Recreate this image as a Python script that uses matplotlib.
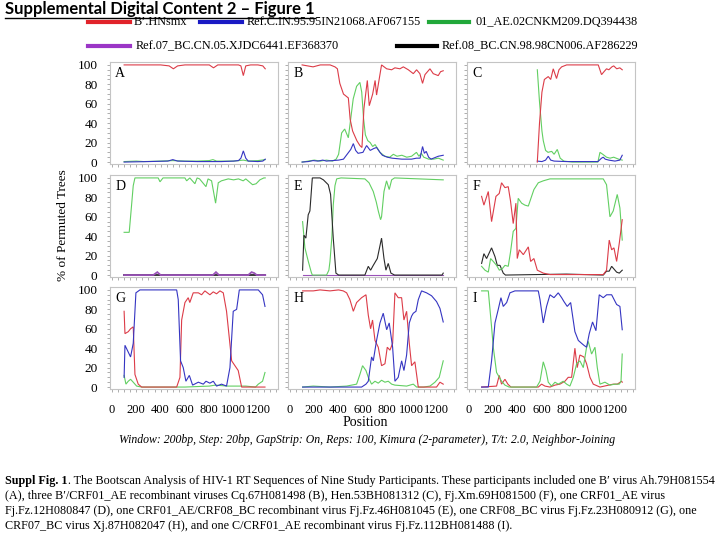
import matplotlib
matplotlib.use("Agg")
import matplotlib.pyplot as plt
from matplotlib.lines import Line2D

# ---------------- data (bootscan % of permuted trees vs. position) ----------------
A_red_pos = [100, 400, 470, 505, 540, 600, 800, 835, 870, 1040, 1060, 1080, 1100, 1140, 1200, 1240, 1260]
A_red_pct = [100, 100, 99, 96, 99, 100, 100, 97, 100, 100, 99, 89, 99, 100, 100, 99, 96]
A_blue_pos = [100, 300, 460, 500, 540, 700, 900, 1000, 1040, 1060, 1080, 1100, 1120, 1200, 1240, 1260]
A_blue_pct = [0, 0.5, 1, 2.5, 1, 0.5, 0.5, 1, 1.5, 4, 11.5, 4, 1, 0.5, 1, 3]
A_green_pos = [100, 200, 260, 400, 500, 600, 700, 800, 830, 860, 1000, 1040, 1080, 1120, 1200, 1260]
A_green_pct = [0.5, 1, 0.5, 1, 1.5, 1, 1, 1.5, 2.5, 1, 1, 1.5, 2, 1, 1.5, 2.5]

B_red_pos = [100, 190, 250, 330, 370, 390, 410, 440, 480, 495, 515, 550, 575, 592, 608, 636, 652, 680, 700, 712,
             753, 795, 836, 863, 904, 932, 973, 1014, 1041, 1068, 1090, 1110, 1151, 1178, 1219, 1238, 1260]
B_red_pct = [100, 98, 100, 100, 98, 96, 81, 70, 66, 44, 32, 22, 17, 15, 55, 84, 58, 70, 84, 69,
             100, 96, 95, 97, 96, 98, 95, 91, 95, 91, 81, 90, 96, 91, 89, 93, 94]
B_green_pos = [100, 150, 200, 250, 300, 350, 380, 400, 425, 450, 480, 500, 520, 548, 575, 590, 605, 620, 640, 660,
               680, 700, 720, 740, 780, 820, 850, 880, 920, 960, 1000, 1040, 1060, 1080, 1100, 1140, 1180, 1220, 1260]
B_green_pct = [0, 1, 2, 1, 2, 1, 3, 8, 30, 34, 25, 45, 65, 78, 82, 72, 45, 28, 22, 20,
               16, 18, 14, 10, 6, 5, 8, 6, 7, 5, 6, 10, 6, 9, 5, 3, 3, 4, 2]
B_blue_pos = [100, 150, 190, 230, 270, 300, 350, 400, 440, 470, 500, 521, 540, 560, 600, 630, 660, 690, 712, 740,
              760, 800, 840, 880, 920, 960, 1000, 1040, 1070, 1090, 1105, 1120, 1140, 1160, 1180, 1220, 1260]
B_blue_pct = [0, 0.5, 1.5, 1, 2, 1, 1.5, 2, 3, 8, 13, 19, 12, 9, 10, 17, 12, 14, 15, 10,
              7, 5, 4, 3.5, 3, 3, 3, 4, 4, 16, 9, 11, 5, 3, 4, 6, 7]

C_red_pos = [562, 580, 600, 620, 652, 672, 693, 720, 740, 762, 803, 1063, 1090, 1110, 1131, 1150, 1175, 1190, 1215, 1240, 1260]
C_red_pct = [0, 40, 72, 85, 88, 85, 96, 86, 95, 98, 100, 100, 90, 93, 96, 95, 98, 99, 96, 97, 95]
C_green_pos = [562, 580, 600, 611, 630, 650, 680, 700, 726, 750, 780, 850, 1060, 1077, 1100, 1131, 1160, 1190, 1230, 1260]
C_green_pct = [95, 62, 32, 22, 12, 10, 11, 8, 13, 4, 1, 0, 0, 10, 8, 5, 4, 5, 3, 2]
C_blue_pos = [562, 600, 630, 652, 672, 700, 800, 1060, 1090, 1104, 1120, 1150, 1200, 1240, 1260]
C_blue_pct = [1, 0.5, 2, 6, 2, 1, 0.5, 0.5, 4, 5, 3, 2, 1, 2, 7]

D_green_pos = [100, 142, 160, 175, 189, 380, 395, 420, 600, 614, 640, 682, 700, 720, 773, 790, 819, 852, 874, 900,
               956, 1000, 1040, 1079, 1100, 1156, 1185, 1216, 1249, 1260]
D_green_pct = [44, 44, 70, 92, 100, 100, 96, 100, 100, 97, 100, 94, 100, 99, 91, 99, 97, 74, 95, 97,
               99, 98, 99, 97, 99, 93, 94, 98, 100, 100]
D_black_pos = [100, 1260]
D_black_pct = [0, 0]
D_purple_pos = [100, 340, 373, 400, 830, 855, 880, 1120, 1148, 1170, 1190, 1260]
D_purple_pct = [0, 0, 3, 0, 0, 3, 0, 0, 3, 2, 0, 0]

E_black_pos = [104, 115, 131, 150, 164, 184, 220, 247, 275, 315, 334, 356, 378, 400, 616, 644, 663, 685, 718, 753,
               773, 789, 808, 830, 860, 1250, 1260]
E_black_pct = [5, 41, 38, 62, 66, 100, 100, 100, 98, 93, 83, 38, 2, 0, 0, 9, 5, 10, 17, 38,
               17, 5, 12, 2, 0, 0, 2]
E_green_pos = [104, 123, 151, 175, 184, 301, 320, 329, 345, 356, 370, 384, 420, 616, 650, 685, 710, 726, 745, 753,
               773, 794, 816, 836, 860, 1260]
E_green_pct = [55, 28, 14, 3, 0, 0, 5, 14, 40, 72, 92, 99, 100, 99, 95, 86, 75, 66, 57, 60,
               86, 97, 88, 98, 100, 98]
E_purple_pos = [104, 1260]
E_purple_pct = [0, 0]

F_red_pos = [104, 123, 159, 186, 222, 249, 268, 296, 323, 342, 364, 386, 397, 414, 447, 488, 507, 534, 562, 611,
             666, 1104, 1131, 1153, 1173, 1192, 1214, 1236, 1260]
F_red_pct = [81, 72, 86, 55, 81, 84, 95, 90, 91, 76, 53, 74, 17, 26, 21, 29, 14, 17, 5, 2,
             0.5, 0.5, 5, 36, 26, 28, 14, 33, 57]
F_green_pos = [104, 132, 159, 178, 200, 227, 250, 277, 296, 323, 342, 364, 386, 405, 433, 460, 488, 515, 534, 570,
               611, 666, 1104, 1131, 1159, 1186, 1219, 1241, 1260]
F_green_pct = [9, 5, 3, 17, 14, 10, 5, 7, 10, 9, 24, 45, 48, 79, 74, 72, 71, 81, 88, 95,
               97, 99, 99, 93, 60, 66, 83, 69, 36]
F_black_pos = [104, 123, 145, 186, 214, 233, 255, 282, 300, 800, 1104, 1131, 1153, 1173, 1214, 1236, 1260]
F_black_pct = [12, 22, 17, 28, 19, 10, 10, 2, 0, 1, 0, 4, 4, 9, 3, 2, 5]

G_blue_pos = [100, 107, 134, 153, 175, 197, 230, 532, 545, 564, 586, 608, 636, 663, 710, 751, 773, 805, 833, 860,
              901, 942, 970, 997, 1025, 1047, 1203, 1238, 1258]
G_blue_pct = [10, 43, 36, 31, 45, 97, 100, 100, 90, 27, 20, 6, 12, 2, 5, 3, 6, 4, 6, 1,
              3, 1, 20, 78, 80, 100, 100, 95, 83]
G_red_pos = [100, 107, 134, 153, 175, 189, 216, 244, 532, 559, 573, 600, 627, 640, 668, 710, 737, 764, 805, 833,
             860, 888, 915, 942, 984, 1011, 1038, 1066, 1258]
G_red_pct = [78, 55, 57, 60, 62, 13, 3, 0, 0, 10, 69, 87, 92, 87, 97, 97, 95, 99, 95, 98,
             96, 99, 97, 78, 27, 22, 17, 0, 0]
G_green_pos = [100, 115, 134, 153, 175, 203, 244, 600, 800, 850, 950, 1100, 1180, 1203, 1238, 1258]
G_green_pct = [12, 3, 6, 8, 5, 1, 0, 0, 1, 2, 1, 1, 0, 3, 6, 15]

H_red_pos = [104, 192, 247, 329, 400, 438, 466, 493, 521, 548, 589, 625, 644, 663, 679, 699, 726, 753, 781, 800,
             822, 844, 863, 890, 918, 937, 959, 981, 1000, 1027, 1055, 1205, 1233, 1260]
H_red_pct = [99, 99, 100, 99, 100, 99, 97, 90, 78, 87, 92, 95, 74, 60, 69, 48, 41, 22, 24, 41,
             38, 45, 97, 92, 92, 69, 78, 45, 22, 26, 0, 0, 5, 3]
H_blue_pos = [104, 589, 625, 644, 671, 685, 712, 740, 767, 795, 816, 844, 863, 890, 918, 937, 959, 981, 1000, 1014,
              1036, 1055, 1082, 1123, 1164, 1205, 1233, 1260]
H_blue_pct = [0, 0, 3, 6, 31, 27, 48, 66, 76, 59, 66, 41, 6, 10, 27, 17, 33, 66, 73, 76,
              78, 90, 99, 97, 94, 88, 81, 67]
H_green_pos = [104, 192, 329, 466, 548, 575, 597, 625, 644, 671, 699, 726, 753, 781, 808, 836, 863, 959, 1014, 1041,
               1100, 1151, 1192, 1227, 1260]
H_green_pct = [0, 1, 0, 1, 3, 13, 22, 17, 10, 3, 6, 4, 7, 5, 6, 3, 2, 1, 3, 0,
               0, 1, 5, 10, 27]

I_green_pos = [104, 159, 186, 200, 227, 268, 296, 330, 556, 584, 611, 633, 652, 679, 707, 734, 775, 803, 830, 858,
               885, 912, 940, 967, 981, 1008, 1036, 1055, 1077, 1118, 1159, 1200, 1236, 1250, 1260]
I_green_pct = [99, 99, 62, 41, 15, 6, 2, 0, 0, 6, 26, 17, 5, 1, 5, 3, 6, 3, 1, 10,
               24, 27, 20, 41, 47, 34, 41, 20, 3, 5, 2, 3, 3, 6, 34]
I_blue_pos = [104, 159, 186, 214, 241, 263, 282, 310, 337, 378, 474, 570, 584, 611, 638, 666, 699, 734, 762, 781,
              808, 836, 871, 899, 926, 945, 967, 989, 1016, 1044, 1071, 1104, 1132, 1173, 1214, 1241, 1260]
I_blue_pct = [0, 0, 27, 66, 80, 92, 83, 87, 97, 99, 99, 99, 90, 66, 83, 95, 92, 97, 92, 88,
              83, 87, 57, 48, 45, 43, 41, 55, 67, 58, 95, 92, 95, 95, 85, 83, 59]
I_red_pos = [104, 227, 249, 268, 296, 320, 345, 400, 570, 597, 625, 666, 707, 748, 789, 816, 844, 871, 890, 912,
             945, 967, 995, 1022, 1077, 1186, 1220, 1255, 1260]
I_red_pct = [0, 1, 12, 3, 8, 3, 0, 0, 0, 3, 1, 0, 2, 3, 6, 10, 10, 40, 20, 33,
             31, 24, 10, 3, 0, 3, 3, 6, 5]

panel_letters = ["A", "B", "C", "D", "E", "F", "G", "H", "I"]
ref_names = ["B\u2019.HNsmx", "Ref.C.IN.95.95IN21068.AF067155", "01_AE.02CNKM209.DQ394438",
             "Ref.07_BC.CN.05.XJDC6441.EF368370", "Ref.08_BC.CN.98.98CN006.AF286229"]
y_ticks = [0, 20, 40, 60, 80, 100]
x_ticks = [0, 200, 400, 600, 800, 1000, 1200]

# ---------------- styling ----------------
SERIF = ["Liberation Serif", "DejaVu Serif"]
plt.rcParams["font.family"] = SERIF
line_col = {"red": "#dc3c48", "blue": "#3535c2", "green": "#62cf62", "purple": "#9a52b8", "black": "#2a2a2a"}
leg_col = {"red": "#e1232a", "blue": "#1a1ac4", "green": "#22a83a", "purple": "#9b36c6", "black": "#000000"}

panels = {
    "A": [("green", A_green_pos, A_green_pct), ("blue", A_blue_pos, A_blue_pct), ("red", A_red_pos, A_red_pct)],
    "B": [("green", B_green_pos, B_green_pct), ("blue", B_blue_pos, B_blue_pct), ("red", B_red_pos, B_red_pct)],
    "C": [("green", C_green_pos, C_green_pct), ("blue", C_blue_pos, C_blue_pct), ("red", C_red_pos, C_red_pct)],
    "D": [("green", D_green_pos, D_green_pct), ("black", D_black_pos, D_black_pct), ("purple", D_purple_pos, D_purple_pct)],
    "E": [("purple", E_purple_pos, E_purple_pct), ("green", E_green_pos, E_green_pct), ("black", E_black_pos, E_black_pct)],
    "F": [("black", F_black_pos, F_black_pct), ("green", F_green_pos, F_green_pct), ("red", F_red_pos, F_red_pct)],
    "G": [("green", G_green_pos, G_green_pct), ("red", G_red_pos, G_red_pct), ("blue", G_blue_pos, G_blue_pct)],
    "H": [("green", H_green_pos, H_green_pct), ("red", H_red_pos, H_red_pct), ("blue", H_blue_pos, H_blue_pct)],
    "I": [("red", I_red_pos, I_red_pct), ("green", I_green_pos, I_green_pct), ("blue", I_blue_pos, I_blue_pct)],
}

W, H = 720, 540
fig = plt.figure(figsize=(7.2, 5.4), dpi=100)
fig.patch.set_facecolor("white")


def px_axes(left, top, w, h):
    return fig.add_axes([left / W, 1 - (top + h) / H, w / W, h / H])


col_left = [110, 288, 467]
row_top = [62, 175, 287]
AW, AH = 168, 102

for k, letter in enumerate(panel_letters):
    r, c = divmod(k, 3)
    ax = px_axes(col_left[c], row_top[r], AW, AH)
    for name, xs, ys in panels[letter]:
        lw = 1.3 if (letter == "D" and name in ("black", "purple")) else 0.8
        ax.plot(xs, ys, color=line_col[name], lw=lw, solid_joinstyle="miter")
    ax.set_xlim(-16, 1365)
    ax.set_ylim(-2, 103)
    for s in ax.spines.values():
        s.set_color("#c4c4c4")
        s.set_linewidth(0.8)
    ax.set_yticks(y_ticks)
    ax.set_yticks(range(0, 101, 5), minor=True)
    ax.set_xticks(x_ticks)
    ax.set_xticks(range(0, 1351, 50), minor=True)
    ax.tick_params(which="both", color="#a0a0a0", length=2, width=0.6, direction="out")
    if c == 0:
        ax.set_yticklabels([str(v) for v in y_ticks], fontsize=9.5)
        ax.tick_params(axis="y", pad=7)
    else:
        ax.set_yticklabels([])
    if r == 2:
        ax.set_xticklabels([str(v) for v in x_ticks], fontsize=9)
        ax.tick_params(axis="x", pad=9)
    else:
        ax.set_xticklabels([])
    ax.text(0.03, 0.955, letter, transform=ax.transAxes, ha="left", va="top", fontsize=10)

# ---------------- title ----------------
renderer = fig.canvas.get_renderer()
t = fig.text(5 / W, 1 - 9 / H, "Supplemental Digital Content 2 \u2013 Figure 1", family=["Lato", "DejaVu Sans"],
             fontweight="bold", fontsize=12, ha="left", va="center")
bb = t.get_window_extent(renderer)
fig.add_artist(Line2D([bb.x0 / W, bb.x1 / W], [1 - 17.5 / H, 1 - 17.5 / H], color="black", lw=1.0))

# ---------------- legend ----------------
legend_items = [
    ("red", ref_names[0], 88, 130, 134, 22),
    ("blue", ref_names[1], 200, 242, 247, 22),
    ("green", ref_names[2], 429, 469, 475, 22),
    ("purple", ref_names[3], 88, 130, 136, 46),
    ("black", ref_names[4], 397, 437, 442, 46),
]
for name, label, x0, x1, xt, yy in legend_items:
    fig.add_artist(Line2D([x0 / W, x1 / W], [1 - yy / H, 1 - yy / H], color=leg_col[name], lw=3))
    fig.text(xt / W, 1 - yy / H, label, fontsize=8.8, ha="left", va="center")

# ---------------- axis titles ----------------
fig.text(63 / W, 1 - 225 / H, "% of Permuted Trees", fontsize=9.5, rotation=90, ha="center", va="center")
fig.text(365 / W, 1 - 422 / H, "Position", fontsize=10, ha="center", va="center")
fig.text(367 / W, 1 - 440 / H,
         "Window: 200bp, Step: 20bp, GapStrip: On, Reps: 100, Kimura (2-parameter), T/t: 2.0, Neighbor-Joining",
         style="italic", fontsize=8.5, ha="center", va="center")

# ---------------- caption ----------------
cap_lines = [
    ". The Bootscan Analysis of HIV-1 RT Sequences of Nine Study Participants. These participants included one B\u2032 virus Ah.79H081554",
    "(A), three B\u2032/CRF01_AE recombinant viruses Cq.67H081498 (B), Hen.53BH081312 (C), Fj.Xm.69H081500 (F), one CRF01_AE virus",
    "Fj.Fz.12H080847 (D), one CRF01_AE/CRF08_BC recombinant virus Fj.Fz.46H081045 (E), one CRF08_BC virus Fj.Fz.23H080912 (G), one",
    "CRF07_BC virus Xj.87H082047 (H), and one C/CRF01_AE recombinant virus Fj.Fz.112BH081488 (I).",
]
cap_y = [481, 496, 511, 526]
CAP_FS = 8.75
tb = fig.text(5 / W, 1 - cap_y[0] / H, "Suppl Fig. 1", fontweight="bold", fontsize=CAP_FS,
              ha="left", va="center")
bbb = tb.get_window_extent(renderer)
fig.text(bbb.x1 / W, 1 - cap_y[0] / H, cap_lines[0], fontsize=CAP_FS, ha="left", va="center")
for line, yy in zip(cap_lines[1:], cap_y[1:]):
    fig.text(5 / W, 1 - yy / H, line, fontsize=CAP_FS, ha="left", va="center")

fig.savefig("out.png", dpi=100, facecolor="white")
